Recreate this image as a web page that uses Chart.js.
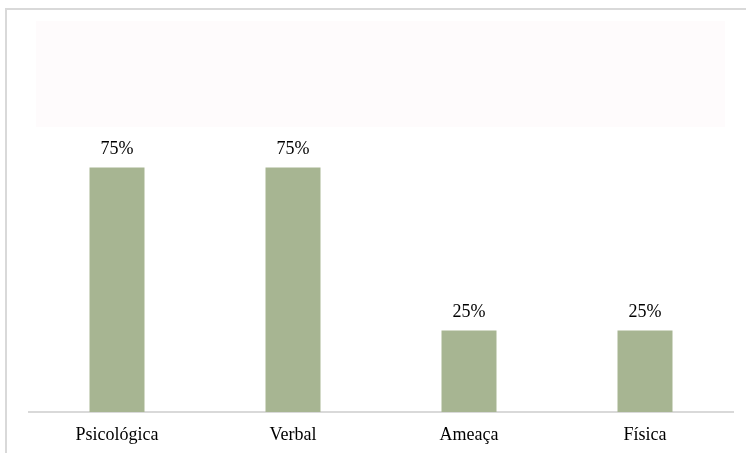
<!DOCTYPE html>
<html>
<head>
<meta charset="utf-8">
<script src="https://cdn.jsdelivr.net/npm/chart.js@4"></script>
<style>
  html, body { margin: 0; padding: 0; background: #fff; }
  #wrap { position: relative; width: 746px; height: 453px; }
</style>
</head>
<body>
<div id="wrap"><canvas id="chartCanvas" width="746" height="453"></canvas></div>
<script>
// chart data
const categories = ['Psicológica', 'Verbal', 'Ameaça', 'Física'];
const percentValues = [75, 75, 25, 25];

const barColor = '#a7b592';
const textFont = '"Liberation Serif", "Times New Roman", serif';

// frame + faint title placeholder box, drawn behind the chart
const backgroundPlugin = {
  id: 'backgroundBox',
  beforeDraw(chart) {
    const c = chart.ctx;
    c.save();
    c.fillStyle = '#ffffff';
    c.fillRect(0, 0, chart.width, chart.height);
    c.fillStyle = '#fefbfc';
    c.fillRect(36, 21, 689, 106);
    c.strokeStyle = '#d9d9d9';
    c.lineWidth = 2;
    c.beginPath();
    c.moveTo(6, chart.height);
    c.lineTo(6, 9);
    c.lineTo(chart.width, 9);
    c.stroke();
    c.restore();
  }
};

// value labels above the bars
const valueLabels = {
  id: 'valueLabels',
  afterDatasetsDraw(chart) {
    const c = chart.ctx;
    const meta = chart.getDatasetMeta(0);
    c.save();
    c.fillStyle = '#000';
    c.font = '18px ' + textFont;
    c.textAlign = 'center';
    c.textBaseline = 'alphabetic';
    meta.data.forEach((bar, i) => {
      c.fillText(percentValues[i] + '%', bar.x, bar.y - 14);
    });
    c.restore();
  }
};

const ctx = document.getElementById('chartCanvas').getContext('2d');
const chart = new Chart(ctx, {
  type: 'bar',
  data: {
    labels: categories,
    datasets: [{
      data: percentValues,
      backgroundColor: barColor,
      borderWidth: 0,
      categoryPercentage: 1,
      barPercentage: 0.3125
    }]
  },
  options: {
    responsive: false,
    animation: false,
    layout: { padding: { left: 29, right: 13, top: 86, bottom: 0 } },
    plugins: {
      legend: { display: false },
      tooltip: { enabled: false },
      title: { display: false }
    },
    scales: {
      y: { display: false, min: 0, max: 100 },
      x: {
        grid: { display: false, drawTicks: false },
        border: { display: true, color: '#d9d9d9', width: 2 },
        ticks: {
          color: '#000',
          padding: 12,
          font: { family: textFont, size: 18 }
        },
        afterFit(scale) { scale.height = 41; }
      }
    }
  },
  plugins: [backgroundPlugin, valueLabels]
});
</script>
</body>
</html>
